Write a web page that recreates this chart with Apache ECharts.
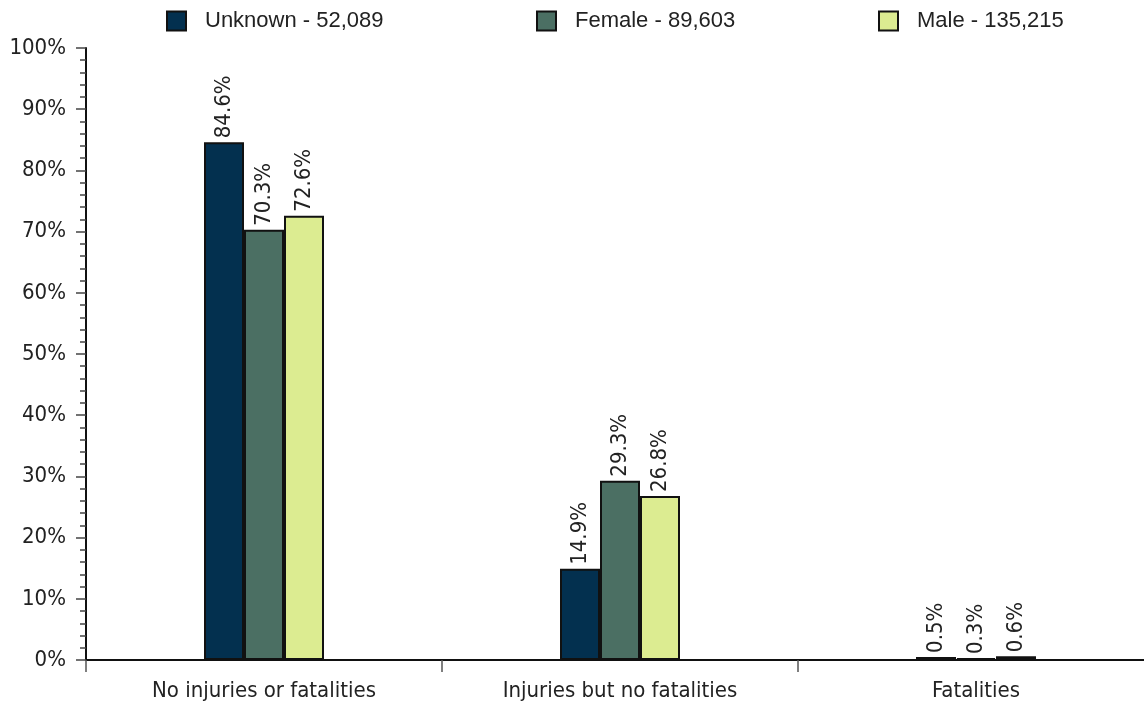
<!DOCTYPE html>
<html>
<head>
<meta charset="utf-8">
<script src="https://cdn.jsdelivr.net/npm/echarts@6/dist/echarts.min.js"></script>
<style>
  html, body { margin: 0; padding: 0; background: #fff; overflow: hidden; }
  /* the plot runs slightly past the right edge of the window */
  #chart { width: 1156px; height: 706px; }
</style>
</head>
<body>
<div id="chart"></div>
<script>
// Injury outcome by gender (percent of each group)
const categories = ['No injuries or fatalities', 'Injuries but no fatalities', 'Fatalities'];
const seriesNames = ['Unknown - 52,089', 'Female - 89,603', 'Male - 135,215'];
const unknownValues = [84.6, 14.9, 0.5];
const femaleValues = [70.3, 29.3, 0.3];
const maleValues = [72.6, 26.8, 0.6];
const seriesColors = ['#03304f', '#4b6f63', '#dcec91'];
const legendLefts = [166, 536, 878];

const FONT = '"DejaVu Sans Condensed", "DejaVu Sans", sans-serif';
const LEGEND_FONT = '"Liberation Sans", Arial, sans-serif';
const valueSets = [unknownValues, femaleValues, maleValues];

const chart = echarts.init(document.getElementById('chart'), null, { renderer: 'canvas' });

// one legend block per series, each pinned to its own column
const legends = seriesNames.map((name, i) => ({
  data: [name],
  left: legendLefts[i],
  top: 10,
  padding: 0,
  icon: 'rect',
  itemWidth: 19,
  itemHeight: 19,
  itemGap: 0,
  itemStyle: { borderColor: '#111', borderWidth: 2 },
  textStyle: { fontFamily: LEGEND_FONT, fontSize: 22, color: '#222', padding: [0, 0, 0, 14] }
}));

const series = seriesNames.map((name, i) => ({
  name: name,
  type: 'bar',
  data: valueSets[i],
  barWidth: 40,
  barGap: '0%',
  itemStyle: { color: seriesColors[i], borderColor: '#111', borderWidth: 2 },
  label: {
    show: true,
    position: 'top',
    rotate: 90,
    align: 'left',
    verticalAlign: 'middle',
    distance: 4,
    fontFamily: FONT,
    fontSize: 22,
    color: '#222',
    formatter: (p) => p.value.toFixed(1) + '%'
  }
}));

chart.setOption({
  animation: false,
  backgroundColor: '#fff',
  legend: legends,
  grid: { left: 86, right: 2, top: 48, bottom: 46, containLabel: false },
  xAxis: {
    type: 'category',
    data: categories,
    axisLine: { show: true, lineStyle: { color: '#111', width: 2 } },
    axisTick: { show: true, alignWithLabel: false, length: 12, lineStyle: { color: '#555', width: 1.5 } },
    axisLabel: { fontFamily: FONT, fontSize: 22, color: '#222', margin: 20 }
  },
  yAxis: {
    type: 'value',
    min: 0,
    max: 100,
    interval: 10,
    axisLine: { show: true, lineStyle: { color: '#111', width: 2 } },
    axisTick: { show: true, length: 10, lineStyle: { color: '#444', width: 1.5 } },
    minorTick: { show: true, splitNumber: 5, length: 6, lineStyle: { color: '#444', width: 1.5 } },
    splitLine: { show: false },
    axisLabel: { fontFamily: FONT, fontSize: 22, color: '#222', margin: 20, formatter: '{value}%' }
  },
  series: series
});
</script>
</body>
</html>
